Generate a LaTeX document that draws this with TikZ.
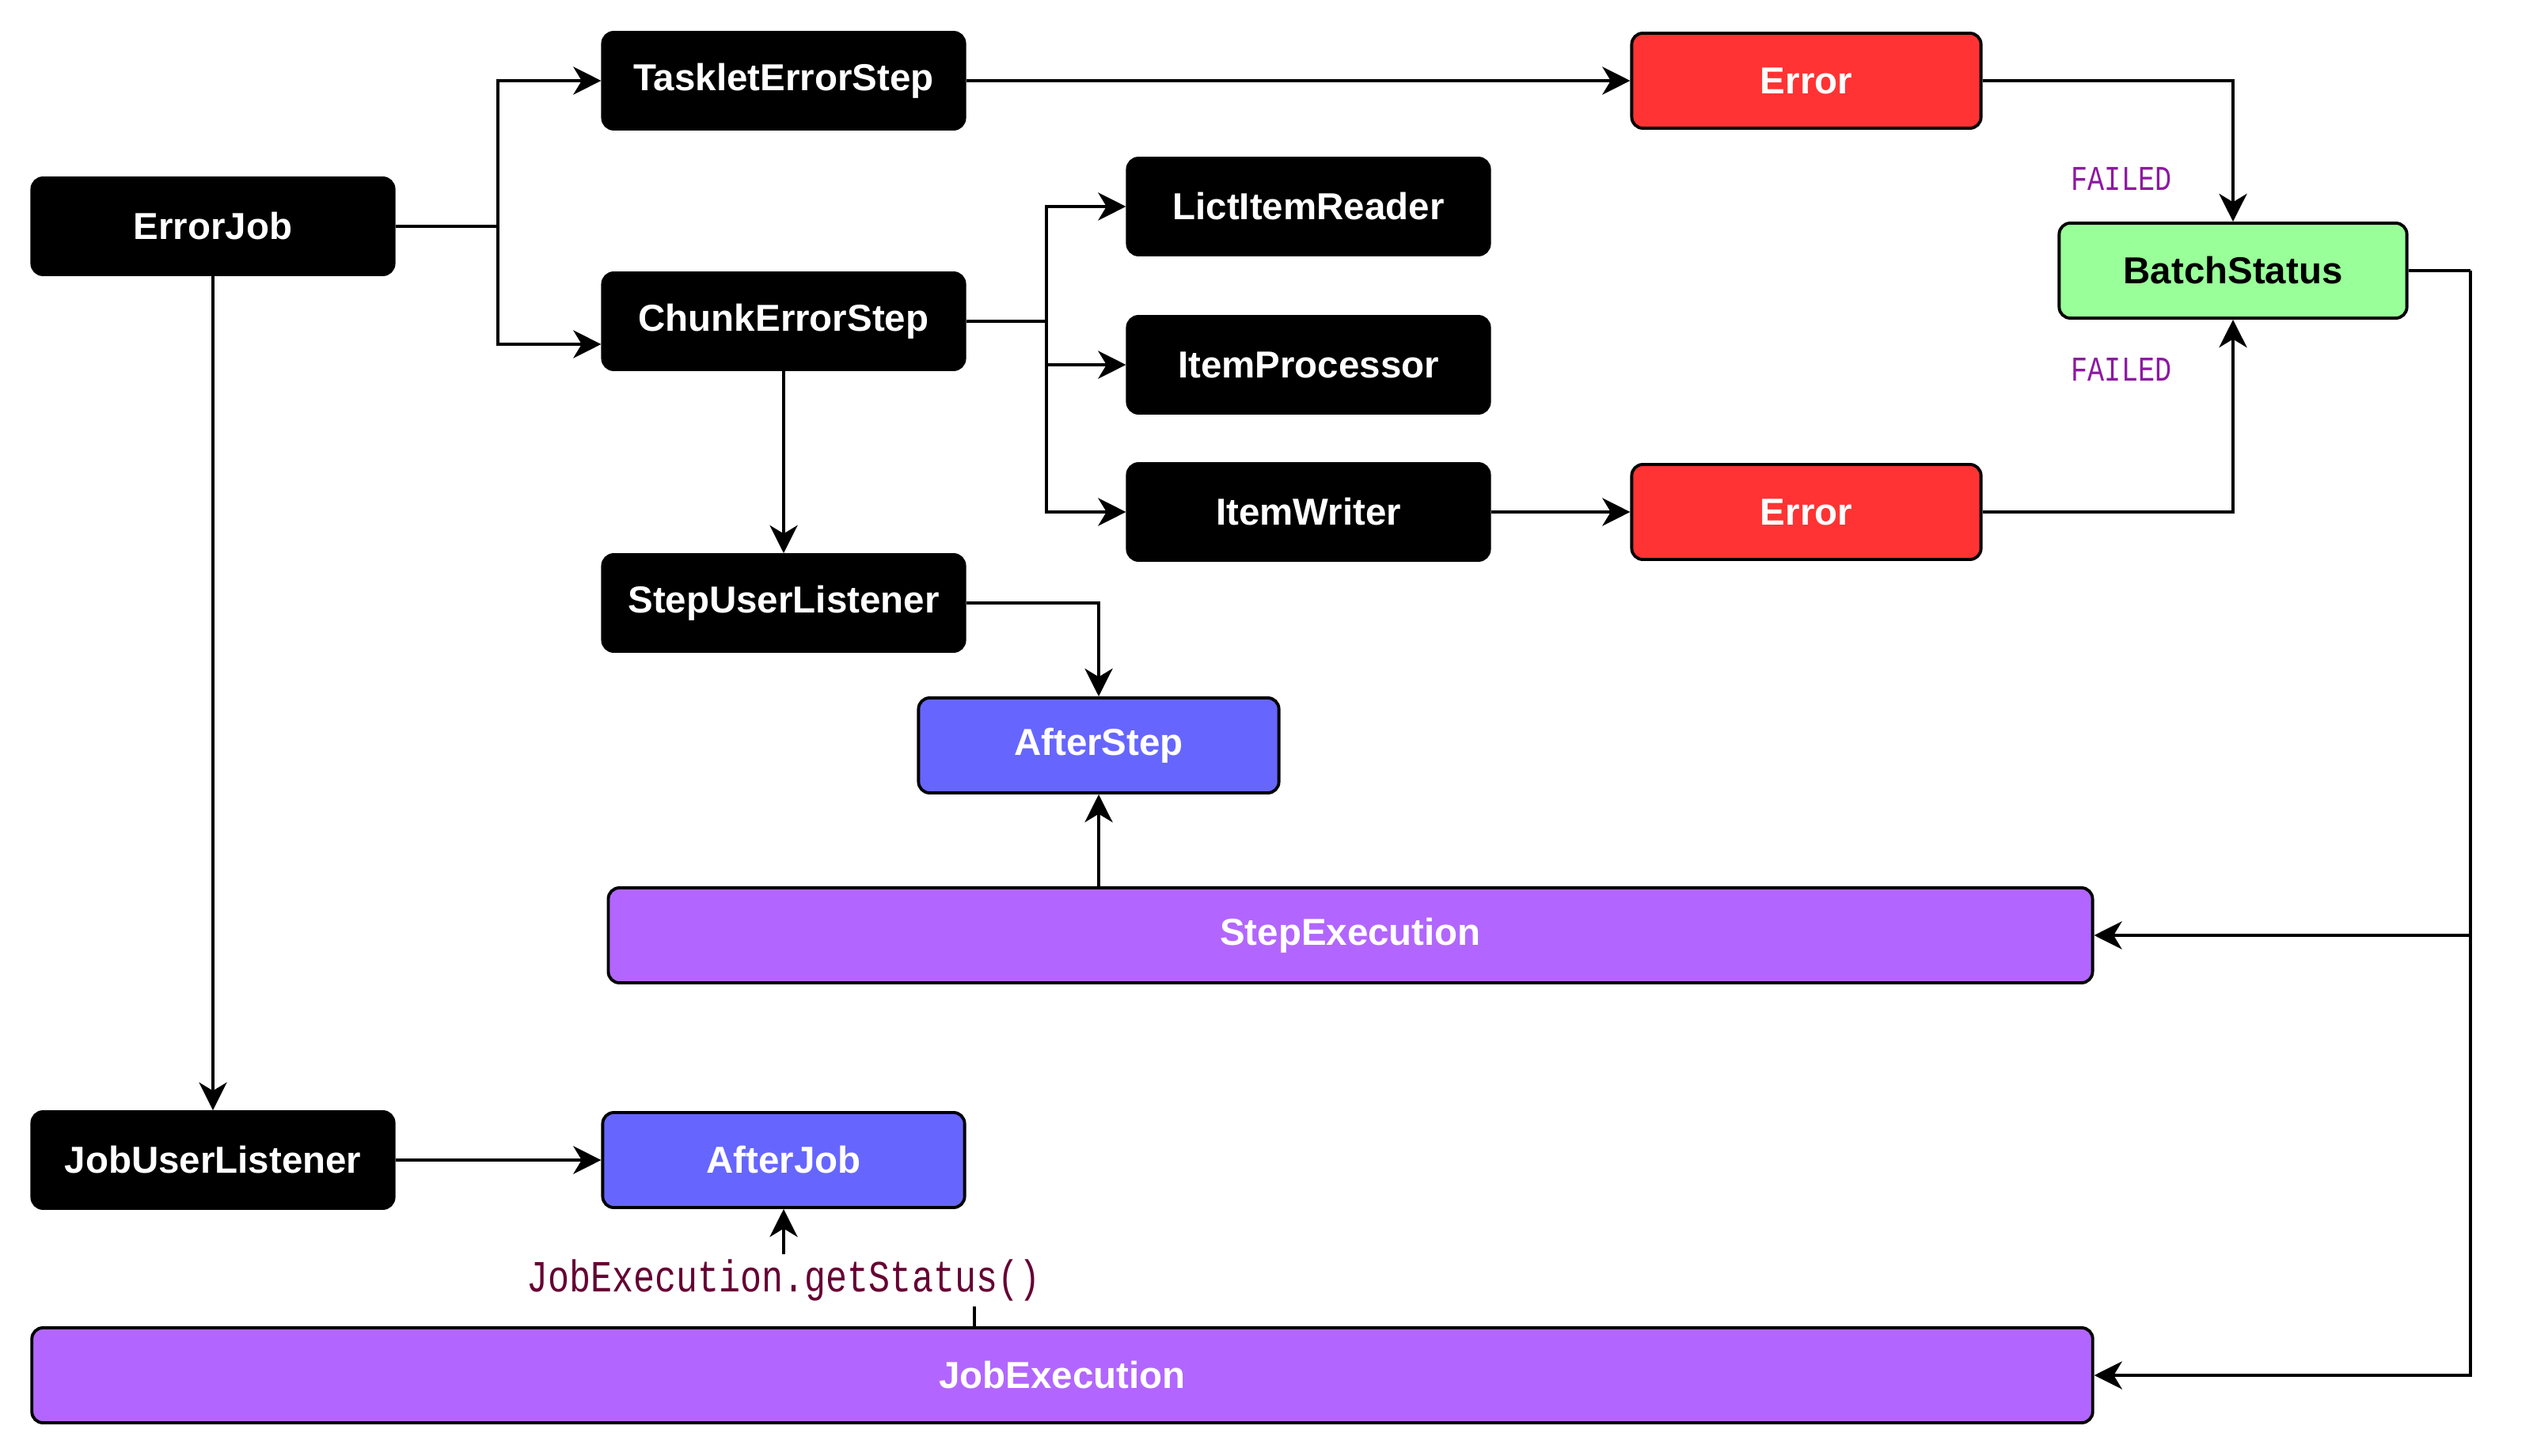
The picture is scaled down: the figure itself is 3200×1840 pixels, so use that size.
\documentclass[tikz,border=0pt]{standalone}
\usepackage{fontspec}
\setmainfont{Liberation Sans}
\newfontfamily\codefont[FakeStretch=0.8]{Liberation Mono}
\usetikzlibrary{arrows.meta}
\definecolor{errred}{HTML}{FF3333}
\definecolor{okgreen}{HTML}{99FF99}
\definecolor{lblue}{HTML}{6666FF}
\definecolor{lpurple}{HTML}{B266FF}
\definecolor{failc}{RGB}{140,25,160}
\definecolor{codec}{HTML}{660033}
\begin{document}
\begin{tikzpicture}[x=0.01cm,y=-0.01cm,
 box/.style={draw=black, line width=1.1pt, rounded corners=4pt, minimum height=1.2cm, inner sep=0pt, font=\fontsize{13.5}{16}\selectfont\bfseries},
 blk/.style={box, fill=black, text=white, minimum width=4.57cm, minimum height=1.22cm},
 red/.style={box, fill=errred, text=white, minimum width=4.41cm},
 grn/.style={box, fill=okgreen, text=black, minimum width=4.39cm},
 blu/.style={box, fill=lblue, text=white, minimum width=4.55cm},
 pur/.style={box, fill=lpurple, text=white},
 arr/.style={line width=1.1pt, -{Stealth[length=10pt,width=10pt,inset=3pt]}},
 ln/.style={line width=1.1pt},
 fail/.style={text=failc, font=\codefont\fontsize{12.5}{14}\selectfont, inner sep=0pt},
 code/.style={fill=white, text=codec, inner sep=2pt, font=\codefont\fontsize{16}{18}\selectfont}
]
\useasboundingbox (0,0) rectangle (3200,1840);

\node[blk] (errorjob) at (269,286) {ErrorJob};
\node[blk] (tasklet) at (990,102) {TaskletErrorStep};
\node[blk] (chunk) at (990,406) {ChunkErrorStep};
\node[blk] (reader) at (1653,261) {LictItemReader};
\node[blk] (processor) at (1653,461) {ItemProcessor};
\node[blk] (writer) at (1653,647) {ItemWriter};
\node[red] (err1) at (2282,102) {Error};
\node[red] (err2) at (2282,647) {Error};
\node[grn] (batch) at (2821,342) {BatchStatus};
\node[blk] (steplistener) at (990,762) {StepUserListener};
\node[blu] (afterstep) at (1388,942) {AfterStep};
\node[pur, minimum width=18.74cm] (stepexec) at (1706,1182) {StepExecution};
\node[blk] (joblistener) at (269,1466) {JobUserListener};
\node[blu, minimum width=4.57cm] (afterjob) at (990,1466) {AfterJob};
\node[pur, minimum width=26.02cm] (jobexec) at (1342,1738) {JobExecution};

\node[fail] (fail1) at (2680,226) {FAILED};
\node[fail] (fail2) at (2680,467) {FAILED};

\coordinate (f1) at (629,286);
\draw[ln] (errorjob.east) -- (f1);
\draw[arr] (f1) |- (tasklet.west);
\draw[arr] (f1) |- ([yshift=-0.29cm]chunk.west);

\coordinate (f2) at (1322,406);
\draw[ln] (chunk.east) -- (f2);
\draw[arr] (f2) |- (reader.west);
\draw[arr] (f2) |- (processor.west);
\draw[arr] (f2) |- (writer.west);

\draw[arr] (tasklet.east) -- (err1.west);
\draw[arr] (err1.east) -| (batch.north);
\draw[arr] (writer.east) -- (err2.west);
\draw[arr] (err2.east) -| (batch.south);

\coordinate (f3) at (3121,342);
\draw[ln] (batch.east) -- (f3);
\draw[arr] (f3) |- (stepexec.east);
\draw[arr] (f3) |- (jobexec.east);

\draw[arr] (chunk.south) -- (steplistener.north);
\draw[arr] (steplistener.east) -| (afterstep.north);
\draw[arr] (stepexec.north -| afterstep.south) -- (afterstep.south);
\draw[arr] (errorjob.south) -- (joblistener.north);
\draw[arr] (joblistener.east) -- (afterjob.west);

\coordinate (jx) at (1231,1678);
\coordinate (lc) at (990,1618);
\draw[arr] (jx) |- (lc) -- (afterjob.south);
\node[code] (lbl) at (lc) {JobExecution.getStatus()};
\end{tikzpicture}
\end{document}
